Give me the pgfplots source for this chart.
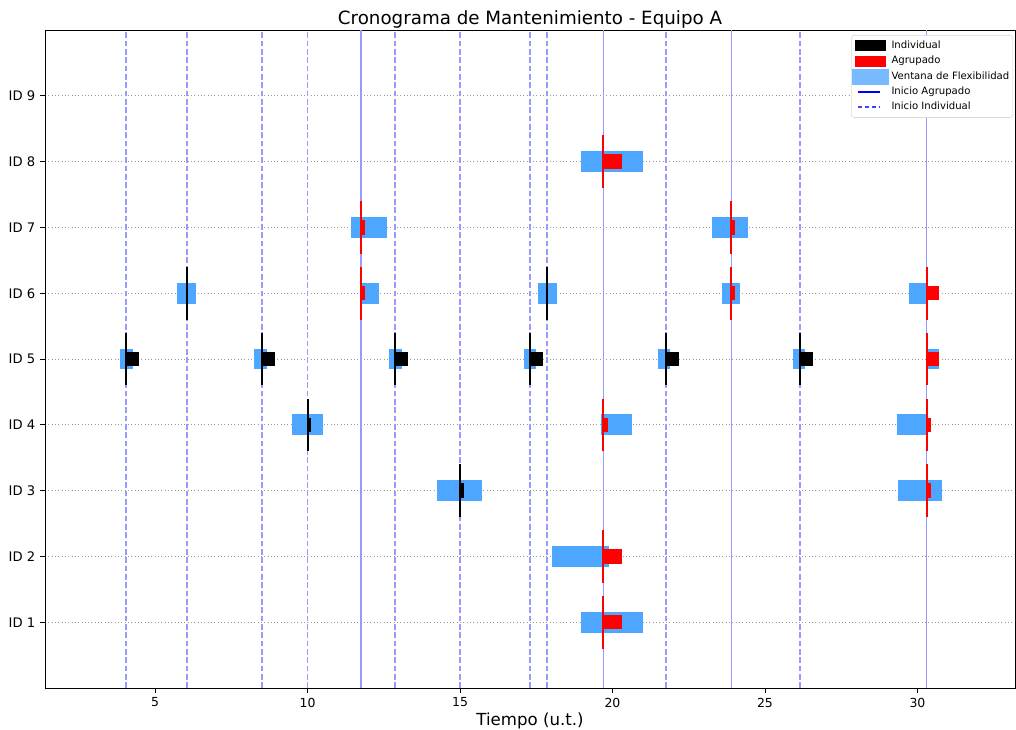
\documentclass[border=0pt]{standalone}
\usepackage{fontspec}
\setmainfont{DejaVu Sans}
\usepackage{pgfplots}
\pgfplotsset{compat=1.18}
\definecolor{win}{RGB}{77,166,255}
\definecolor{winleg}{RGB}{120,186,255}
\definecolor{vl}{RGB}{153,153,255}
\pgfplotsset{every axis title/.style={at={(0.5,1)}, anchor=base, inner sep=0pt, yshift=3.8bp, font=\fontsize{13.2}{15}\selectfont}}
\begin{document}
\begin{tikzpicture}
\begin{axis}[
  scale only axis, width=698.4bp, height=473.8bp,
  xmin=1.39, xmax=33.2, ymin=0, ymax=10,
  xtick={5,10,15,20,25,30},
  ytick={1,2,3,4,5,6,7,8,9},
  yticklabels={ID 1,ID 2,ID 3,ID 4,ID 5,ID 6,ID 7,ID 8,ID 9},
  ymajorgrids, grid style={dotted, gray!80, line width=0.6bp},
  tick align=outside, xtick pos=bottom, ytick pos=left,
  major tick length=3.5bp,
  tick style={black, line width=0.6bp},
  axis line style={line width=0.7bp},
  title={Cronograma de Mantenimiento - Equipo A},
  xlabel={Tiempo (u.t.)},
  xlabel style={font=\fontsize{12}{14}\selectfont, at={(axis description cs:0.5,0)}, anchor=base, inner sep=0pt, yshift=-26.6bp},
  xticklabel style={font=\fontsize{9}{11}\selectfont},
  yticklabel style={font=\fontsize{9.5}{12}\selectfont},
  /pgf/number format/assume math mode=true,
  unbounded coords=jump,
  legend style={at={(1,1)}, anchor=north east, xshift=-1.4bp, yshift=-3.6bp,
    font=\fontsize{7.3}{8.5}\selectfont, draw=gray!30, rounded corners=2bp,
    row sep=0bp, inner xsep=0.5bp, inner ysep=2bp},
  legend cell align=left,
]
% legend entries
\addlegendimage{legend image code/.code={\fill[black, sharp corners] (0bp,-3.6bp) rectangle (22bp,3.6bp);}}
\addlegendentry{Individual}
\addlegendimage{legend image code/.code={\fill[red, sharp corners] (0bp,-3.6bp) rectangle (22bp,3.6bp);}}
\addlegendentry{Agrupado}
\addlegendimage{legend image code/.code={\fill[winleg, sharp corners] (-2bp,-5.4bp) rectangle (24bp,5.4bp);}}
\addlegendentry{Ventana de Flexibilidad}
\addlegendimage{legend image code/.code={\draw[blue, sharp corners, line width=1.1bp] (2bp,0bp) -- (18bp,0bp);}}
\addlegendentry{Inicio Agrupado}
\addlegendimage{legend image code/.code={\draw[blue!75, sharp corners, line width=1.1bp, dash pattern=on 3bp off 2bp] (2bp,0bp) -- (18bp,0bp);}}
\addlegendentry{Inicio Individual}

% grouped start lines
\addplot[vl, line width=1.1bp, forget plot] coordinates {
(11.75,0) (11.75,10) (nan,nan)
(19.7,0) (19.7,10) (nan,nan)
(23.9,0) (23.9,10) (nan,nan)
(30.3,0) (30.3,10)};
% individual start lines
\addplot[vl, line width=1bp, dash pattern=on 4bp off 2bp, forget plot] coordinates {
(4.05,0) (4.05,10) (nan,nan)
(6.05,0) (6.05,10) (nan,nan)
(8.5,0) (8.5,10) (nan,nan)
(10.0,0) (10.0,10) (nan,nan)
(12.87,0) (12.87,10) (nan,nan)
(15.0,0) (15.0,10) (nan,nan)
(17.3,0) (17.3,10) (nan,nan)
(17.85,0) (17.85,10) (nan,nan)
(21.75,0) (21.75,10) (nan,nan)
(26.15,0) (26.15,10)};

% flexibility windows
\addplot[win, line width=14.9bp, forget plot] coordinates {
(3.85,5) (4.27,5) (nan,nan)
(8.26,5) (8.67,5) (nan,nan)
(12.67,5) (13.09,5) (nan,nan)
(17.09,5) (17.48,5) (nan,nan)
(21.49,5) (21.89,5) (nan,nan)
(25.92,5) (26.31,5) (nan,nan)
(5.73,6) (6.34,6) (nan,nan)
(17.56,6) (18.17,6) (nan,nan)
(9.5,4) (10.52,4) (nan,nan)
(14.26,3) (15.73,3) (nan,nan)
(11.43,7) (12.61,7) (nan,nan)
(11.8,6) (12.34,6) (nan,nan)
(18.97,8) (20.99,8) (nan,nan)
(19.61,4) (20.63,4) (nan,nan)
(18.02,2) (19.9,2) (nan,nan)
(18.97,1) (20.99,1) (nan,nan)
(23.25,7) (24.43,7) (nan,nan)
(23.59,6) (24.19,6) (nan,nan)
(29.72,6) (30.3,6) (nan,nan)
(30.35,5) (30.72,5) (nan,nan)
(29.32,4) (30.28,4) (nan,nan)
(29.35,3) (30.81,3)};

% individual tasks
\addplot[black, line width=10.4bp, forget plot] coordinates {
(4.05,5) (4.47,5) (nan,nan)
(8.5,5) (8.92,5) (nan,nan)
(12.87,5) (13.29,5) (nan,nan)
(17.3,5) (17.72,5) (nan,nan)
(21.75,5) (22.17,5) (nan,nan)
(26.15,5) (26.57,5) (nan,nan)
(10.0,4) (10.12,4) (nan,nan)
(15.0,3) (15.12,3)};

% grouped tasks
\addplot[red, line width=10.4bp, forget plot] coordinates {
(11.75,7) (11.9,7) (nan,nan)
(11.75,6) (11.9,6) (nan,nan)
(19.7,8) (20.3,8) (nan,nan)
(19.7,4) (19.86,4) (nan,nan)
(19.7,2) (20.3,2) (nan,nan)
(19.7,1) (20.3,1) (nan,nan)
(23.9,7) (24.03,7) (nan,nan)
(23.9,6) (24.03,6) (nan,nan)
(30.3,6) (30.72,6) (nan,nan)
(30.3,5) (30.72,5) (nan,nan)
(30.3,4) (30.44,4) (nan,nan)
(30.3,3) (30.44,3)};

% start markers, individual
\addplot[black, line width=1.5bp, forget plot] coordinates {
(4.05,4.6) (4.05,5.4) (nan,nan)
(8.5,4.6) (8.5,5.4) (nan,nan)
(12.87,4.6) (12.87,5.4) (nan,nan)
(17.3,4.6) (17.3,5.4) (nan,nan)
(21.75,4.6) (21.75,5.4) (nan,nan)
(26.15,4.6) (26.15,5.4) (nan,nan)
(6.05,5.6) (6.05,6.4) (nan,nan)
(17.85,5.6) (17.85,6.4) (nan,nan)
(10.0,3.6) (10.0,4.4) (nan,nan)
(15.0,2.6) (15.0,3.4)};

% start markers, grouped
\addplot[red, line width=1.5bp, forget plot] coordinates {
(11.75,6.6) (11.75,7.4) (nan,nan)
(11.75,5.6) (11.75,6.4) (nan,nan)
(19.7,7.6) (19.7,8.4) (nan,nan)
(19.7,3.6) (19.7,4.4) (nan,nan)
(19.7,1.6) (19.7,2.4) (nan,nan)
(19.7,0.6) (19.7,1.4) (nan,nan)
(23.9,6.6) (23.9,7.4) (nan,nan)
(23.9,5.6) (23.9,6.4) (nan,nan)
(30.3,5.6) (30.3,6.4) (nan,nan)
(30.3,4.6) (30.3,5.4) (nan,nan)
(30.3,3.6) (30.3,4.4) (nan,nan)
(30.3,2.6) (30.3,3.4)};
\end{axis}
\pgfresetboundingbox
\path[use as bounding box] ([xshift=-32.4bp,yshift=-29.5bp]current axis.south west) rectangle ([xshift=0.72bp,yshift=21.6bp]current axis.north east);
\end{tikzpicture}
\end{document}
